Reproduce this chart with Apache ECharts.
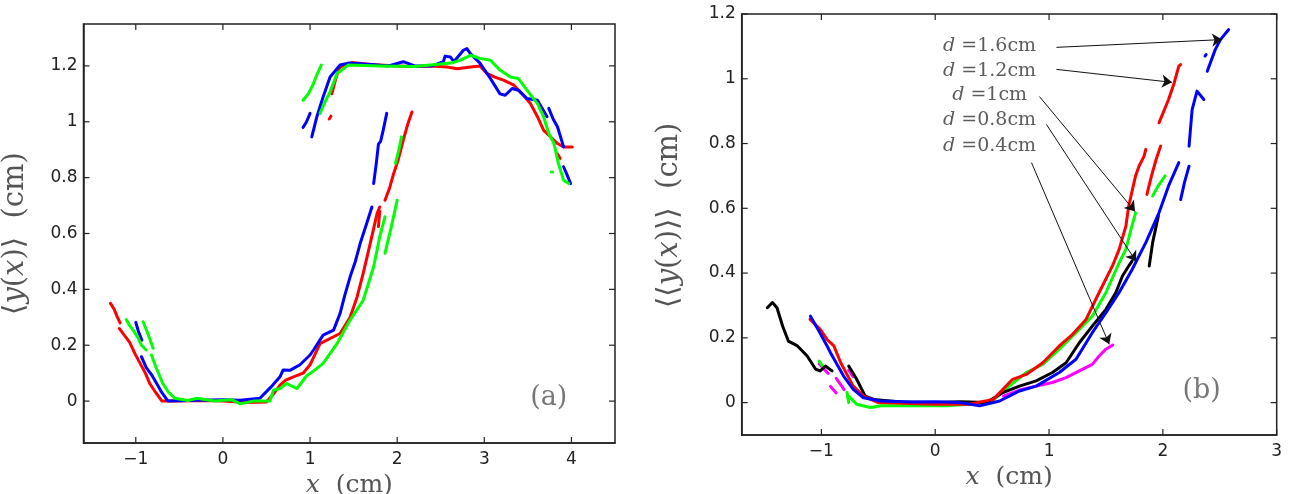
<!DOCTYPE html>
<html>
<head>
<meta charset="utf-8">
<script src="https://cdn.jsdelivr.net/npm/echarts@6/dist/echarts.min.js"></script>
<style>
  html, body { margin: 0; padding: 0; background: #fff; }
  #chart { width: 1291px; height: 494px; }
</style>
</head>
<body>
<div id="chart"></div>
<script>
// ---- panel (a): each colour is a list of segments of [x, y] points (cm)
var aRed = [
    [[-1.29, 0.35], [-1.25, 0.33], [-1.21, 0.30], [-1.18, 0.28]],
    [[-1.19, 0.26], [-1.13, 0.235], [-1.07, 0.21], [-1.01, 0.17], [-0.95, 0.135], [-0.89, 0.10], [-0.84, 0.063], [-0.77, 0.03], [-0.70, 0.0],
     [-0.5, 0.0], [-0.2, 0.002], [0.0, 0.0], [0.27, -0.005], [0.5, -0.003], [0.58, 0.025], [0.655, 0.057], [0.72, 0.075], [0.81, 0.087],
     [0.92, 0.10], [1.0, 0.13], [1.115, 0.206], [1.23, 0.224], [1.345, 0.242], [1.40, 0.27], [1.46, 0.30], [1.54, 0.373], [1.61, 0.457],
     [1.69, 0.564], [1.77, 0.672], [1.80, 0.695]],
    [[1.785, 0.625], [1.80, 0.68]],
    [[1.86, 0.719], [1.91, 0.76], [1.96, 0.815], [2.01, 0.862], [2.07, 0.934], [2.12, 0.99], [2.17, 1.035]],
    [[1.22, 1.01], [1.24, 1.02]],
    [[1.25, 1.10], [1.30, 1.16], [1.345, 1.196], [1.48, 1.212], [1.7, 1.205], [2.0, 1.2], [2.2, 1.198], [2.4, 1.2], [2.57, 1.196],
     [2.69, 1.19], [2.84, 1.196], [2.95, 1.2], [3.03, 1.173], [3.12, 1.16], [3.22, 1.149], [3.34, 1.131], [3.45, 1.095], [3.53, 1.065],
     [3.61, 1.018], [3.68, 0.97], [3.76, 0.946], [3.84, 0.922], [3.91, 0.91], [4.01, 0.91]],
    [[3.84, 0.885], [3.87, 0.869]]
];
var aBlue = [
    [[-1.0, 0.282], [-0.97, 0.25], [-0.93, 0.218]],
    [[-0.935, 0.159], [-0.88, 0.12], [-0.82, 0.095], [-0.76, 0.063], [-0.70, 0.03], [-0.63, 0.0], [-0.3, 0.003], [0.0, 0.005], [0.2, 0.003],
     [0.425, 0.01], [0.55, 0.05], [0.655, 0.087], [0.69, 0.111], [0.77, 0.11], [0.81, 0.117], [0.885, 0.13], [1.0, 0.165], [1.04, 0.183],
     [1.15, 0.236], [1.27, 0.254], [1.345, 0.314], [1.40, 0.38], [1.46, 0.445], [1.52, 0.50], [1.575, 0.564], [1.65, 0.636], [1.71, 0.695]],
    [[1.73, 0.779], [1.76, 0.85], [1.785, 0.92], [1.81, 0.93], [1.84, 0.97], [1.88, 1.03]],
    [[0.92, 0.98], [0.96, 1.0], [1.0, 1.03]],
    [[1.02, 0.946], [1.08, 1.02], [1.15, 1.089], [1.23, 1.16], [1.345, 1.203], [1.44, 1.21], [1.7, 1.205], [1.9, 1.2], [2.07, 1.215],
     [2.2, 1.2], [2.4, 1.2], [2.53, 1.215], [2.55, 1.235], [2.61, 1.232], [2.65, 1.215], [2.76, 1.256], [2.80, 1.262], [2.84, 1.244],
     [2.95, 1.21], [3.07, 1.155], [3.18, 1.10], [3.24, 1.095], [3.32, 1.119], [3.39, 1.113], [3.49, 1.083], [3.61, 1.077], [3.72, 1.018]],
    [[3.74, 1.048], [3.79, 1.01], [3.84, 0.982], [3.91, 0.91]],
    [[3.91, 0.839], [3.95, 0.81], [3.99, 0.779]]
];
var aGreen = [
    [[-1.11, 0.292], [-1.07, 0.27], [-1.03, 0.254], [-0.98, 0.23], [-0.935, 0.2], [-0.88, 0.183]],
    [[-0.915, 0.284], [-0.86, 0.24], [-0.80, 0.189]],
    [[-0.82, 0.165], [-0.76, 0.115], [-0.69, 0.063], [-0.62, 0.03], [-0.55, 0.01], [-0.4, 0.002], [-0.3, 0.01], [-0.1, 0.0], [0.1, 0.005],
     [0.2, -0.01], [0.35, 0.0], [0.54, 0.0], [0.58, 0.039], [0.655, 0.045], [0.73, 0.063], [0.81, 0.051], [0.85, 0.045], [0.96, 0.09],
     [1.05, 0.11], [1.15, 0.135], [1.31, 0.206], [1.46, 0.29], [1.61, 0.361], [1.73, 0.481], [1.80, 0.588], [1.86, 0.66]],
    [[1.86, 0.529], [1.93, 0.62], [2.0, 0.719]],
    [[1.98, 0.851], [2.02, 0.9], [2.05, 0.946]],
    [[0.92, 1.077], [0.98, 1.10], [1.04, 1.137], [1.08, 1.17], [1.13, 1.203]],
    [[1.115, 1.03], [1.17, 1.07], [1.23, 1.107], [1.31, 1.173], [1.44, 1.203], [1.8, 1.2], [2.2, 1.198], [2.53, 1.208], [2.62, 1.21],
     [2.72, 1.22], [2.84, 1.238], [2.95, 1.227], [3.07, 1.22], [3.18, 1.185], [3.30, 1.16], [3.39, 1.155], [3.49, 1.113], [3.61, 1.065],
     [3.68, 1.018], [3.74, 0.958], [3.80, 0.922], [3.85, 0.851], [3.91, 0.791], [3.97, 0.779]],
    [[3.77, 0.82], [3.785, 0.82]]
];

// ---- panel (b)
var bMagenta = [
    [[-1.02, 0.12], [-0.98, 0.105], [-0.94, 0.09]],
    [[-0.92, 0.05], [-0.87, 0.03]],
    [[-0.87, 0.075], [-0.84, 0.06], [-0.80, 0.04]],
    [[-0.76, 0.1], [-0.72, 0.08]],
    [[0.6, 0.02], [0.75, 0.04], [0.887, 0.051], [1.03, 0.062], [1.15, 0.077], [1.266, 0.098], [1.38, 0.118], [1.44, 0.144], [1.50, 0.165], [1.56, 0.178]]
];
var bGreen = [
    [[-1.02, 0.128], [-0.98, 0.108]],
    [[-0.775, 0.031], [-0.76, 0.0]],
    [[-0.76, 0.02], [-0.69, -0.005], [-0.57, -0.015], [-0.48, -0.01], [-0.34, -0.01], [0.1, -0.01], [0.3, -0.005], [0.5, 0.005], [0.65, 0.051],
     [0.80, 0.093], [0.945, 0.118], [1.09, 0.165], [1.237, 0.216], [1.38, 0.267], [1.50, 0.34], [1.616, 0.432], [1.675, 0.473], [1.72, 0.535], [1.76, 0.586]],
    [[1.91, 0.638], [1.96, 0.67], [2.02, 0.70]]
];
var bBlack = [
    [[-1.475, 0.293], [-1.43, 0.309], [-1.39, 0.293], [-1.34, 0.236], [-1.29, 0.19], [-1.21, 0.175], [-1.125, 0.144], [-1.05, 0.103],
     [-1.01, 0.098], [-0.965, 0.113], [-0.906, 0.098]],
    [[-0.76, 0.113], [-0.69, 0.072], [-0.615, 0.02], [-0.54, 0.01], [-0.3, 0.002], [0.0, 0.0], [0.22, 0.003], [0.45, 0.0], [0.595, 0.031],
     [0.74, 0.051], [0.887, 0.067], [1.03, 0.093], [1.15, 0.123], [1.266, 0.185], [1.38, 0.236], [1.50, 0.288], [1.587, 0.34], [1.645, 0.391],
     [1.70, 0.422], [1.73, 0.437]],
    [[1.88, 0.422], [1.91, 0.494], [1.96, 0.576]]
];
var bRed = [
    [[-1.10, 0.257], [-1.01, 0.226], [-0.95, 0.195], [-0.89, 0.175], [-0.83, 0.123], [-0.72, 0.051], [-0.63, 0.02], [-0.5, 0.0], [0.0, -0.005],
     [0.3, -0.005], [0.51, 0.01], [0.595, 0.041], [0.68, 0.072], [0.80, 0.087], [0.945, 0.123], [1.09, 0.175], [1.207, 0.211], [1.325, 0.257],
     [1.44, 0.34], [1.557, 0.422], [1.616, 0.473], [1.675, 0.545], [1.70, 0.607], [1.72, 0.638], [1.76, 0.70], [1.79, 0.73], [1.835, 0.761], [1.85, 0.782]],
    [[1.86, 0.643], [1.9, 0.70], [1.94, 0.75], [1.98, 0.792]],
    [[1.966, 0.864], [2.05, 0.936], [2.10, 0.988], [2.14, 1.039], [2.156, 1.044]]
];
var bBlue = [
    [[-1.096, 0.267], [-1.02, 0.22], [-0.95, 0.175], [-0.92, 0.154], [-0.805, 0.082], [-0.72, 0.041], [-0.63, 0.015], [-0.48, 0.005],
     [-0.2, 0.002], [0.0, 0.003], [0.216, 0.0], [0.39, -0.01], [0.566, 0.005], [0.74, 0.036], [0.887, 0.051], [1.09, 0.093], [1.237, 0.134],
     [1.38, 0.216], [1.50, 0.278], [1.616, 0.34], [1.73, 0.411], [1.85, 0.494], [1.966, 0.586], [2.05, 0.669], [2.14, 0.741]],
    [[2.156, 0.627], [2.19, 0.68], [2.23, 0.73]],
    [[2.23, 0.792], [2.257, 0.905], [2.30, 0.962], [2.36, 0.936]],
    [[2.39, 1.023], [2.46, 1.09], [2.506, 1.121], [2.578, 1.152]],
    [[2.37, 1.07], [2.38, 1.075]]
];

// annotations of panel (b): d values, label centres and arrows [x0, y0, x1, y1]
var bDiam = ['1.6', '1.2', '1', '0.8', '0.4'];
var bLabelX = 0.478;
var bLabelY = [1.101, 1.024, 0.951, 0.874, 0.792];
var bArrows = [
    [1.065, 1.097, 2.52, 1.121],
    [1.065, 1.029, 2.08, 0.989],
    [0.916, 0.945, 1.756, 0.59],
    [0.977, 0.859, 1.765, 0.436],
    [0.846, 0.741, 1.529, 0.18]
];

// axes: extents and tick values
var aXRange = [-1.6, 4.5];
var aYRange = [-0.15, 1.35];
var bXRange = [-1.7, 3];
var bYRange = [-0.1, 1.2];
var aXTicks = [-1, 0, 1, 2, 3, 4];
var aYTicks = [0, 0.2, 0.4, 0.6, 0.8, 1, 1.2];
var bXTicks = [-1, 0, 1, 2, 3];
var bYTicks = [0, 0.2, 0.4, 0.6, 0.8, 1, 1.2];
var aTag = [3.74, 0.01];
var bTag = [2.34, 0.035];

var myChart = echarts.init(document.getElementById('chart'));

var serif = 'DejaVu Serif';
var sans = 'DejaVu Sans';
var nameColor = '#555';
var NB = '\u00a0';

function fmt(v) {
    return String(v).replace('-', '\u2212');
}

function axis(pos, gridIndex, range, ticks, extra) {
    var o = {
        type: 'value',
        gridIndex: gridIndex,
        position: pos,
        min: range[0],
        max: range[1],
        splitLine: { show: false },
        axisLine: { show: true, onZero: false, lineStyle: { color: '#222', width: 1.5 } },
        axisTick: { show: false },
        axisLabel: {
            customValues: ticks,
            formatter: fmt,
            fontFamily: sans,
            fontSize: 17,
            color: '#222',
            margin: (pos == 'left') ? 6 : 8
        }
    };
    for (var k in extra) o[k] = extra[k];
    return o;
}

function nameStyle(size) {
    return {
        fontFamily: serif,
        fontSize: size,
        color: nameColor,
        rich: { i: { fontFamily: serif, fontStyle: 'italic', fontSize: size, color: nameColor } }
    };
}

function segs(list, color, idx) {
    return list.map(function (s) {
        return {
            type: 'line',
            xAxisIndex: idx,
            yAxisIndex: idx,
            data: s,
            symbol: 'none',
            silent: true,
            animation: false,
            lineStyle: { color: color, width: 3, cap: 'round', join: 'round' },
            itemStyle: { color: color }
        };
    });
}

function tag(pt, text, idx) {
    return {
        type: 'scatter',
        xAxisIndex: idx,
        yAxisIndex: idx,
        symbolSize: 0,
        silent: true,
        animation: false,
        data: [pt],
        label: {
            show: true,
            position: 'inside',
            formatter: text,
            fontFamily: serif,
            fontSize: 27,
            color: nameColor
        }
    };
}

var series = [].concat(
    segs(aRed, '#ff0000', 0),
    segs(aBlue, '#0000ff', 0),
    segs(aGreen, '#00ff00', 0),
    segs(bMagenta, '#ff00ff', 1),
    segs(bGreen, '#00ff00', 1),
    segs(bBlack, '#000000', 1),
    segs(bRed, '#ff0000', 1),
    segs(bBlue, '#0000ff', 1),
    [tag(aTag, '(a)', 0), tag(bTag, '(b)', 1)],
    [{
        type: 'scatter',
        xAxisIndex: 1,
        yAxisIndex: 1,
        symbolSize: 0,
        silent: true,
        animation: false,
        data: bDiam.map(function (d, i) { return [bLabelX, bLabelY[i], d]; }),
        label: {
            show: true,
            position: 'inside',
            formatter: function (p) { return '{i|d} =' + p.data[2] + 'cm'; },
            fontFamily: serif,
            fontSize: 19,
            color: '#333',
            rich: { i: { fontFamily: serif, fontStyle: 'italic', fontSize: 19, color: '#333' } }
        },
        markLine: {
            silent: true,
            animation: false,
            symbol: ['none', 'arrow'],
            symbolSize: 10,
            label: { show: false },
            lineStyle: { color: '#111', width: 1, type: 'solid' },
            data: bArrows.map(function (a) {
                return [{ coord: [a[0], a[1]] }, { coord: [a[2], a[3]] }];
            })
        }
    }]
);

var frame = { show: true, borderColor: '#222', borderWidth: 1.5, backgroundColor: 'transparent', outerBoundsMode: 'none', containLabel: false };

option = {
    backgroundColor: '#fff',
    animation: false,
    grid: [
        Object.assign({ left: 83.5, top: 24, width: 531.5, height: 419 }, frame),
        Object.assign({ left: 741.7, top: 14, width: 535, height: 421 }, frame)
    ],
    xAxis: [
        axis('bottom', 0, aXRange, aXTicks, {
            name: '{i|x}  (cm)', nameLocation: 'middle', nameGap: 23, nameTextStyle: nameStyle(25)
        }),
        axis('bottom', 1, bXRange, bXTicks, {
            name: '{i|x}  (cm)', nameLocation: 'middle', nameGap: 28, nameTextStyle: nameStyle(25)
        })
    ],
    yAxis: [
        axis('left', 0, aYRange, aYTicks, {
            name: '\u27e8{i|y}({i|x})\u27e9  (cm)', nameLocation: 'middle', nameGap: 54, nameRotate: 90, nameTextStyle: nameStyle(29)
        }),
        axis('left', 1, bYRange, bYTicks, {
            name: NB + NB + '\u27e8\u27e8{i|y}({i|x})\u27e9\u27e9  (cm)', nameLocation: 'middle', nameGap: 58, nameRotate: 90, nameTextStyle: nameStyle(29)
        })
    ],
    series: series
};
myChart.setOption(option);

// inward tick marks on all four sides, placed through the chart's own scales
function ticks(g, xr, yr, xt, yt) {
    var len = 6, out = [];
    function seg(p, dx, dy) {
        out.push({
            type: 'line', silent: true, z: 50,
            shape: { x1: p[0], y1: p[1], x2: p[0] + dx, y2: p[1] + dy },
            style: { stroke: '#222', lineWidth: 1.2 }
        });
    }
    xt.forEach(function (v) {
        seg(myChart.convertToPixel({ gridIndex: g }, [v, yr[0]]), 0, -len);
        seg(myChart.convertToPixel({ gridIndex: g }, [v, yr[1]]), 0, len);
    });
    yt.forEach(function (v) {
        seg(myChart.convertToPixel({ gridIndex: g }, [xr[0], v]), len, 0);
        seg(myChart.convertToPixel({ gridIndex: g }, [xr[1], v]), -len, 0);
    });
    return out;
}
myChart.setOption({
    graphic: ticks(0, aXRange, aYRange, aXTicks, aYTicks).concat(ticks(1, bXRange, bYRange, bXTicks, bYTicks))
});
</script>
</body>
</html>
